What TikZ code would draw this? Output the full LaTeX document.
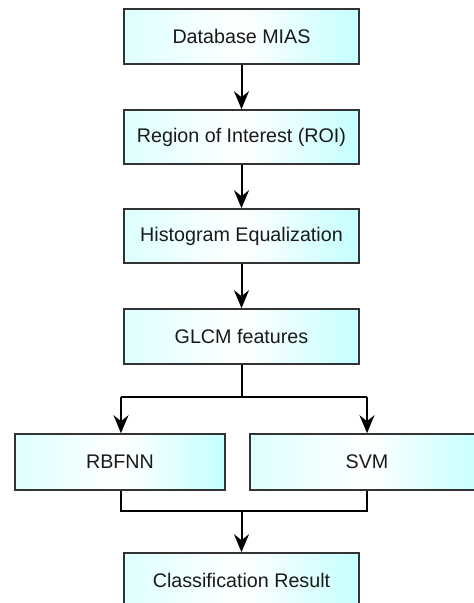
\documentclass[tikz,border=0pt]{standalone}
\usepackage{fontspec}
\setmainfont{Liberation Sans}
\usetikzlibrary{arrows.meta}
\definecolor{boxline}{HTML}{333333}
\definecolor{cyanL}{HTML}{DDFFFF}
\definecolor{cyanR}{HTML}{C4FFFF}
\definecolor{txt}{HTML}{1A1A1A}
\tikzset{
  procbox/.style={draw=boxline, line width=1.6pt, rectangle,
    left color=cyanL, right color=cyanR, middle color=white,
    minimum height=55pt, inner sep=0pt, text=txt,
    font=\fontsize{19.7}{23}\selectfont},
  flow/.style={draw=black, line width=2pt, -{Stealth[length=18pt,width=15pt,inset=6pt]}},
  link/.style={draw=black, line width=1.6pt},
}
\begin{document}
\begin{tikzpicture}[x=1pt,y=-1pt]
\useasboundingbox (0,0) rectangle (474,603);
\fill[white] (0,0) rectangle (474,603);
\clip (0,0) rectangle (474,603);
\node[procbox, minimum width=235pt] (db) at (241.5,36.5) {Database MIAS};
\node[procbox, minimum width=235pt, minimum height=54pt] (roi) at (241.5,137) {Region of Interest (ROI)};
\node[procbox, minimum width=235pt, minimum height=54pt] (he) at (241.5,236) {Histogram Equalization};
\node[procbox, minimum width=235pt] (glcm) at (241.5,336.5) {GLCM features};
\node[procbox, minimum width=210pt, minimum height=56pt] (rbf) at (120,462) {RBFNN};
\node[procbox, minimum width=234pt, minimum height=56pt] (svm) at (367,462) {SVM};
\node[procbox, minimum width=235pt] (cls) at (241.5,580.5) {Classification Result};

\coordinate (split) at (241.5,397);
\coordinate (splitL) at (121,397);
\coordinate (splitR) at (367,397);
\coordinate (mergeL) at (121,511);
\coordinate (mergeR) at (367,511);
\coordinate (merge) at (241.5,511);

\draw[flow] (db) -- (roi);
\draw[flow] (roi) -- (he);
\draw[flow] (he) -- (glcm);
\draw[link, line width=2pt] (glcm.south) -- (split);
\draw[link] (splitL) -- (splitR);
\draw[flow, line width=1.6pt] (splitL) -- (splitL |- rbf.north);
\draw[flow, line width=1.6pt] (splitR) -- (splitR |- svm.north);
\draw[link] (mergeL |- rbf.south) -- (mergeL) -- (mergeR) -- (mergeR |- svm.south);
\draw[flow] (merge) -- (cls.north);
\end{tikzpicture}
\end{document}
